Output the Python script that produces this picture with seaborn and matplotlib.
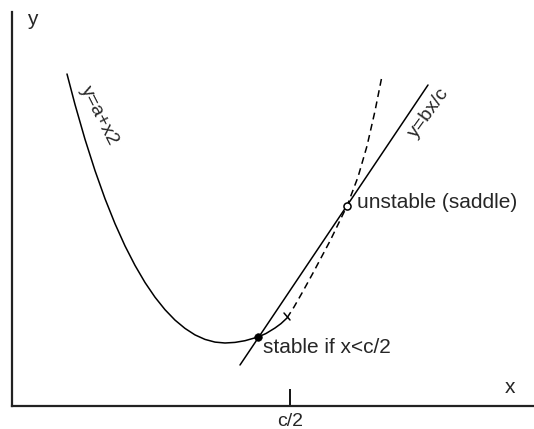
import matplotlib.pyplot as plt
import seaborn as sns

# solid part of the parabola y=a+x2
curve_x = [55, 63, 73, 83, 93, 103, 113, 123, 133, 143, 153, 163, 173, 183, 193, 203,
           213, 223, 233, 246, 254, 263, 269, 275]
curve_y = [332, 301.5, 266.7, 235.4, 207.3, 182.3, 160.1, 140.6, 123.5, 108.8, 96.3, 85.9,
           77.6, 71.1, 66.6, 63.9, 63, 63.6, 65.3, 69, 72.5, 78, 82.4, 88]

# dashed continuation of the parabola
dash_x = [275, 282, 290, 301, 318, 335, 346, 355, 363, 370]
dash_y = [88, 99, 113, 133, 165, 200, 229, 260, 295, 330]

# straight line y=bx/c
line_x = [228, 416]
line_y = [41, 321]

# little tick across the curve where it turns dashed
mark_x = [272, 278]
mark_y = [93, 86]

# fixed points
stable_x, stable_y = [246], [69]
unstable_x, unstable_y = [335], [200]

# position of c/2 on the x axis
c_half = 278

sns.set_style("white")
plt.rcParams['font.family'] = ['Liberation Sans', 'DejaVu Sans']

fig = plt.figure(figsize=(5.34, 4.29), dpi=100)
ax = fig.add_axes([12 / 534, 23 / 429, 522 / 534, 394 / 429])
ax.set_xlim(0, 522)
ax.set_ylim(0, 394)

sns.lineplot(x=curve_x, y=curve_y, ax=ax, color='black', lw=1.1, sort=False, estimator=None)
sns.lineplot(x=dash_x, y=dash_y, ax=ax, color='black', lw=1.1, sort=False, estimator=None,
             linestyle=(0, (4.5, 3)))
sns.lineplot(x=line_x, y=line_y, ax=ax, color='black', lw=1.1, sort=False, estimator=None)
sns.lineplot(x=mark_x, y=mark_y, ax=ax, color='black', lw=1.1, sort=False, estimator=None)

sns.scatterplot(x=stable_x, y=stable_y, ax=ax, s=30, color='black', edgecolor='black', zorder=5)
sns.scatterplot(x=unstable_x, y=unstable_y, ax=ax, s=26, color='white', edgecolor='black',
                linewidth=1.1, zorder=5)

# labels
ax.text(251, 53, 'stable if x<c/2', fontsize=15, ha='left', va='baseline')
ax.text(345, 198, 'unstable (saddle)', fontsize=15, ha='left', va='baseline')
ax.text(87, 290, 'y=a+x2', fontsize=14, ha='center', va='center', rotation=-63,
        rotation_mode='anchor')
ax.text(417, 293, 'y=bx/c', fontsize=14, ha='center', va='center', rotation=54,
        rotation_mode='anchor')
ax.text(15, 381, 'y', fontsize=15, ha='left', va='baseline')
ax.text(493, 13, 'x', fontsize=15, ha='left', va='baseline')

# axes
sns.despine(ax=ax, top=True, right=True)
for side in ['left', 'bottom']:
    ax.spines[side].set_linewidth(1.6)
    ax.spines[side].set_color('#222222')
ax.set_xticks([c_half])
ax.set_xticklabels(['c/2'])
ax.set_yticks([])
ax.tick_params(axis='x', direction='in', length=12.5, width=1.3, pad=5, labelsize=14,
               color='black', bottom=True)
ax.set_xlabel('')
ax.set_ylabel('')

fig.savefig('out.png', dpi=100)
